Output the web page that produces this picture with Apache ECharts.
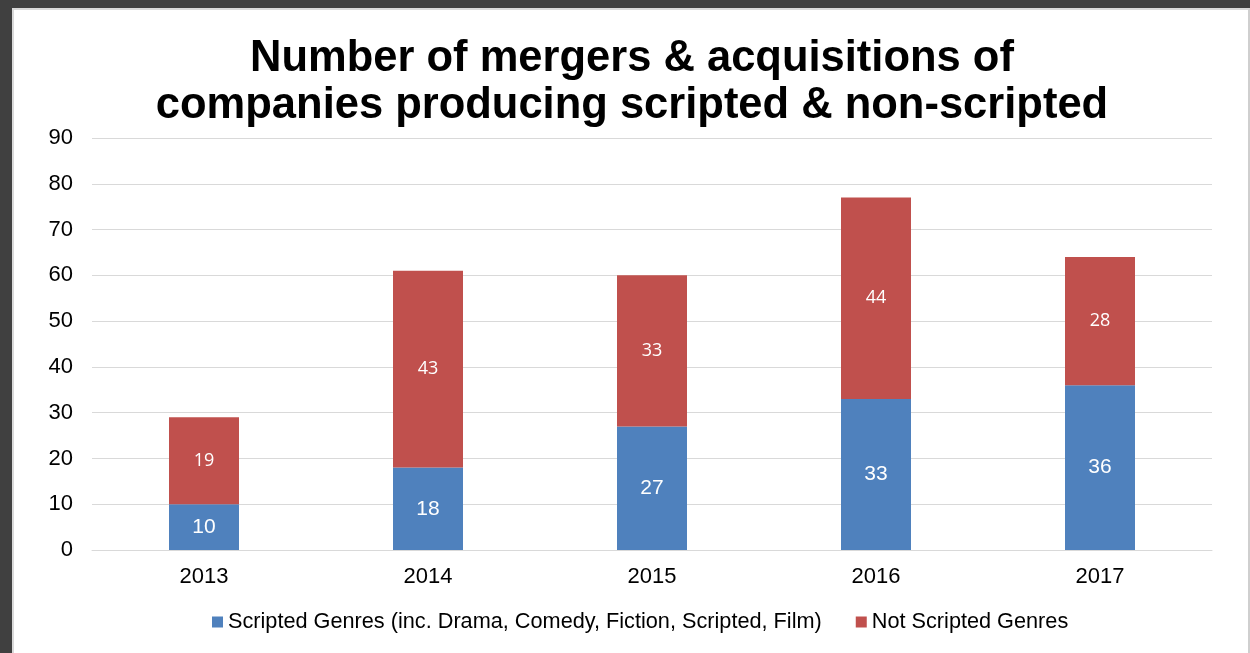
<!DOCTYPE html>
<html>
<head>
<meta charset="utf-8">
<script src="https://cdn.jsdelivr.net/npm/echarts@6/dist/echarts.min.js"></script>
<style>
html,body{margin:0;padding:0;width:1250px;height:653px;overflow:hidden;background:#404040;}
#panel{position:absolute;left:12px;top:8px;width:1234px;height:645px;background:#fff;border-left:2px solid #d9d9d9;border-top:2px solid #d9d9d9;border-right:2px solid #cfcfcf;}
#chart{position:absolute;left:0;top:0;width:1250px;height:653px;}
</style>
</head>
<body>
<div id="panel"></div>
<div id="chart"></div>
<script>
const titleLines = ["Number of mergers & acquisitions of", "companies producing scripted & non-scripted"];
const categories = ["2013", "2014", "2015", "2016", "2017"];
const seriesNames = ["Scripted Genres (inc. Drama, Comedy, Fiction, Scripted, Film)", "Not Scripted Genres"];
const scripted = [10, 18, 27, 33, 36];
const notScripted = [19, 43, 33, 44, 28];
const yTicks = {min: 0, max: 90, interval: 10};

const chart = echarts.init(document.getElementById('chart'), null, {renderer: 'canvas'});
const font = 'Liberation Sans, Arial, sans-serif';
chart.setOption({
  backgroundColor: 'transparent',
  animation: false,
  title: {
    text: titleLines.join('\n'),
    left: 627, textAlign: 'center', top: 30,
    textStyle: {fontFamily: font, fontSize: 43.5, fontWeight: 'bold', color: '#000', lineHeight: 47}
  },
  legend: {
    top: 606, left: 207,
    itemWidth: 11, itemHeight: 11, itemGap: 34,
    icon: 'rect',
    textStyle: {fontFamily: font, fontSize: 21.7, color: '#000'},
    data: seriesNames
  },
  grid: {left: 92, right: 38, top: 138, bottom: 103, containLabel: false},
  xAxis: {
    type: 'category', data: categories,
    axisLine: {show: true, lineStyle: {color: '#d9d9d9', width: 1}},
    axisTick: {show: false},
    axisLabel: {fontFamily: font, fontSize: 22, color: '#000', margin: 16}
  },
  yAxis: {
    type: 'value', min: yTicks.min, max: yTicks.max, interval: yTicks.interval,
    axisLine: {show: false}, axisTick: {show: false},
    splitLine: {lineStyle: {color: '#d9d9d9', width: 1}},
    axisLabel: {fontFamily: font, fontSize: 22, color: '#000', margin: 19}
  },
  series: [
    {
      name: seriesNames[0], type: 'bar', stack: 'a', data: scripted, barWidth: 70,
      itemStyle: {color: '#4F81BD'},
      label: {show: true, position: 'inside', color: '#fff', fontFamily: font, fontSize: 21}
    },
    {
      name: seriesNames[1], type: 'bar', stack: 'a', data: notScripted, barWidth: 70,
      itemStyle: {color: '#C0504D'},
      label: {show: true, position: 'inside', color: '#fff', fontFamily: 'Open Sans, sans-serif', fontSize: 18}
    }
  ]
});
</script>
</body>
</html>
